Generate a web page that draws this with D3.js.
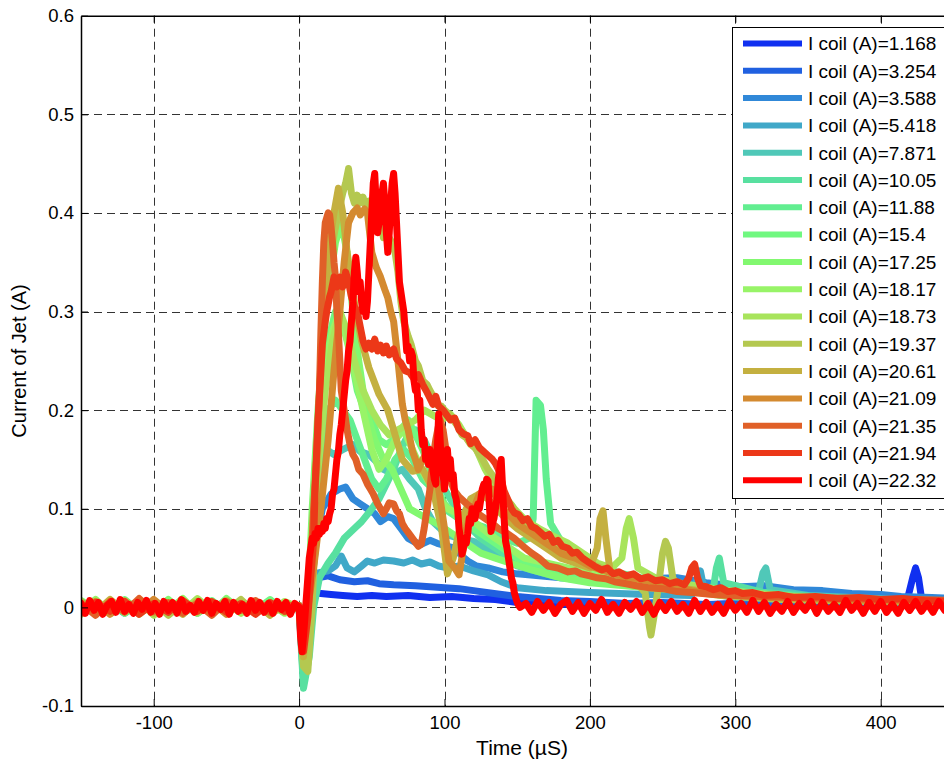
<!DOCTYPE html>
<html>
<head>
<meta charset="utf-8">
<script src="https://cdn.jsdelivr.net/npm/d3@7"></script>
<style>
body{margin:0;background:#fff;}
svg{display:block;font-family:"Liberation Sans",Arial,sans-serif;}
</style>
</head>
<body>
<svg id="chart" width="944" height="763"></svg>
<script>

// legend labels and line colours (jet-like, blue -> red)
var coilLabels=["1.168","3.254","3.588","5.418","7.871","10.05","11.88","15.4","17.25","18.17","18.73","19.37","20.61","21.09","21.35","21.94","22.32"];
var lineColors=["#1030f0","#2060e0","#3088d8","#40a8c8","#50c8b8","#58e0a0","#62ee90","#70f880","#82f870","#98f468","#a8e45c","#b4c850","#c4b040","#d48a30","#e06028","#ec3818","#ff0000"];

var xTicks=[-100,0,100,200,300,400];
var yTicks=[-0.1,0,0.1,0.2,0.3,0.4,0.5,0.6];

// pre-trigger noise, one sample every 10 uS from -150 (series 1..16)
var preNoise=[
 [0.003,-0.004,0.005,-0.002,0.004,-0.005,0.002,0.004,-0.003,0.005,-0.004,0.003,-0.005,0.004,-0.002,0.001],
 [-0.004,0.005,-0.003,0.004,-0.005,0.003,-0.002,0.005,-0.004,0.003,-0.005,0.004,-0.003,0.005,-0.004,0.0],
 [0.005,-0.003,0.004,-0.006,0.003,-0.004,0.006,-0.002,0.004,-0.005,0.003,-0.004,0.005,-0.003,0.004,-0.001],
 [-0.005,0.004,-0.004,0.006,-0.003,0.005,-0.004,0.003,-0.006,0.004,-0.002,0.006,-0.004,0.003,-0.005,0.002],
 [0.006,-0.004,0.003,-0.005,0.006,-0.002,0.004,-0.006,0.003,-0.004,0.008,-0.003,0.004,-0.005,0.003,0.0],
 [-0.003,0.006,-0.005,0.003,-0.004,0.007,-0.003,0.004,-0.005,0.006,-0.004,0.003,-0.006,0.005,-0.003,0.001],
 [0.004,-0.006,0.005,-0.003,0.007,-0.004,0.003,-0.006,0.005,-0.003,0.004,-0.005,0.006,-0.002,0.005,-0.002],
 [-0.006,0.004,-0.003,0.008,-0.004,0.005,-0.006,0.003,-0.004,0.007,-0.005,0.004,-0.003,0.008,-0.004,0.0],
 [0.007,-0.003,0.005,-0.006,0.004,-0.004,0.008,-0.005,0.003,-0.006,0.009,-0.003,0.005,-0.005,0.004,0.001],
 [-0.004,0.008,-0.005,0.004,-0.007,0.005,-0.003,0.009,-0.006,0.004,-0.003,0.007,-0.005,0.004,-0.006,0.002],
 [0.005,-0.007,0.004,-0.003,0.006,-0.008,0.005,-0.004,0.009,-0.003,0.005,-0.006,0.004,-0.007,0.006,0.0],
 [-0.007,0.005,-0.004,0.007,-0.003,0.006,-0.008,0.004,-0.005,0.006,-0.004,0.008,-0.006,0.003,-0.005,0.001],
 [0.006,-0.005,0.008,-0.004,0.005,-0.006,0.003,-0.007,0.006,-0.004,0.007,-0.003,0.005,-0.008,0.004,-0.001],
 [-0.005,0.006,-0.007,0.004,-0.005,0.008,-0.004,0.006,-0.003,0.005,-0.007,0.004,-0.006,0.005,-0.004,0.002],
 [0.004,-0.008,0.006,-0.005,0.009,-0.004,0.005,-0.006,0.004,-0.008,0.006,-0.003,0.007,-0.005,0.003,0.0],
 [-0.006,0.005,-0.004,0.006,-0.007,0.004,-0.005,0.007,-0.004,0.006,-0.005,0.004,-0.007,0.005,-0.004,0.001]
];

// pulse part [time uS, current A] for series 1..16
var pulse1168=[[3,-0.02],[6,0.004],[9,0.015],[15,0.014],[22,0.013],[30,0.012],[40,0.011],[50,0.012],[60,0.011],[75,0.012],[90,0.01],[105,0.011],[120,0.009],[135,0.008],[150,0.005],[165,0.006],[180,0.003],[200,0.005],[220,0.002],[245,0.004],[270,0.002],[300,0.004],[330,0.002],[360,0.004],[390,0.003],[415,0.006],[419,0.012],[422,0.03],[424,0.04],[426,0.03],[428,0.01],[432,0.004],[450,0.003]];
var pulse3254=[[3,-0.06],[6,-0.02],[9,0.02],[13,0.03],[20,0.032],[28,0.028],[38,0.026],[47,0.027],[55,0.024],[65,0.023],[80,0.022],[90,0.021],[100,0.02],[110,0.019],[120,0.017],[134,0.014],[150,0.011],[165,0.009],[180,0.007],[200,0.006],[225,0.004],[250,0.005],[280,0.003],[310,0.004],[340,0.002],[370,0.004],[400,0.002],[430,0.003],[450,0.002]];
var pulse3588=[[3,-0.07],[6,-0.03],[9,0.03],[12,0.07],[16,0.1],[22,0.115],[28,0.12],[32,0.122],[37,0.11],[42,0.105],[47,0.1],[52,0.095],[56,0.087],[61,0.092],[65,0.09],[70,0.08],[75,0.07],[80,0.066],[84,0.064],[90,0.068],[95,0.065],[102,0.062],[107,0.06],[112,0.052],[116,0.047],[122,0.042],[130,0.04],[140,0.036],[150,0.034],[165,0.032],[180,0.03],[200,0.031],[215,0.03],[235,0.029],[260,0.03],[280,0.025],[304,0.021],[320,0.022],[340,0.018],[360,0.017],[380,0.014],[400,0.013],[414,0.011],[435,0.01],[450,0.009]];
var pulse5418=[[3,-0.065],[6,-0.02],[9,0.02],[13,0.035],[20,0.037],[25,0.042],[29,0.052],[33,0.04],[38,0.036],[43,0.042],[47,0.047],[52,0.045],[58,0.048],[65,0.047],[72,0.045],[78,0.048],[84,0.044],[90,0.046],[96,0.042],[102,0.04],[110,0.042],[120,0.037],[130,0.033],[139,0.026],[150,0.02],[170,0.017],[200,0.015],[240,0.013],[270,0.012],[274,0.03],[276,0.037],[279,0.015],[300,0.01],[330,0.009],[360,0.007],[400,0.006],[450,0.005]];
var pulse7871=[[3,-0.075],[6,-0.04],[9,0.04],[12,0.1],[15,0.145],[19,0.16],[24,0.155],[30,0.16],[37,0.165],[42,0.158],[48,0.155],[53,0.148],[58,0.14],[65,0.135],[71,0.14],[76,0.13],[82,0.12],[87,0.1],[92,0.087],[97,0.08],[101,0.074],[110,0.07],[120,0.067],[130,0.058],[140,0.05],[150,0.042],[165,0.036],[180,0.03],[200,0.027],[230,0.024],[260,0.022],[300,0.018],[316,0.016],[319,0.035],[321,0.04],[324,0.018],[350,0.012],[380,0.01],[410,0.008],[450,0.006]];
var pulse1005=[[3,-0.082],[7,-0.05],[10,0.0],[14,0.03],[20,0.045],[25,0.055],[31,0.07],[38,0.08],[43,0.087],[49,0.098],[55,0.11],[60,0.125],[65,0.14],[70,0.16],[75,0.175],[80,0.18],[86,0.17],[92,0.15],[100,0.12],[108,0.1],[115,0.085],[125,0.07],[135,0.06],[145,0.05],[160,0.042],[180,0.035],[200,0.03],[230,0.026],[260,0.022],[285,0.02],[287,0.04],[289,0.05],[292,0.025],[320,0.015],[360,0.01],[400,0.008],[450,0.006]];
var pulse1188=[[3,-0.06],[6,-0.02],[9,0.06],[12,0.12],[16,0.17],[20,0.2],[25,0.21],[30,0.2],[35,0.19],[40,0.17],[45,0.15],[50,0.13],[55,0.12],[60,0.13],[66,0.15],[72,0.16],[78,0.15],[85,0.13],[92,0.12],[100,0.1],[110,0.09],[120,0.085],[130,0.08],[140,0.07],[150,0.065],[158,0.07],[161,0.09],[163,0.21],[166,0.205],[168,0.18],[170,0.13],[173,0.085],[185,0.055],[200,0.045],[220,0.035],[250,0.025],[280,0.018],[320,0.012],[360,0.008],[400,0.006],[450,0.004]];
var pulse1540=[[3,-0.05],[6,0.0],[9,0.08],[12,0.15],[16,0.22],[20,0.27],[25,0.3],[30,0.29],[35,0.26],[40,0.22],[45,0.2],[50,0.19],[55,0.17],[60,0.165],[65,0.17],[70,0.18],[75,0.19],[80,0.175],[85,0.16],[90,0.14],[95,0.12],[100,0.105],[110,0.09],[120,0.08],[130,0.07],[140,0.06],[150,0.05],[170,0.04],[200,0.03],[230,0.025],[260,0.02],[300,0.014],[350,0.01],[400,0.007],[450,0.005]];
var pulse1725=[[3,-0.05],[6,0.0],[9,0.1],[13,0.2],[17,0.28],[21,0.33],[25,0.37],[29,0.39],[33,0.36],[37,0.3],[41,0.25],[46,0.2],[52,0.17],[58,0.15],[64,0.14],[70,0.12],[76,0.1],[82,0.095],[88,0.09],[95,0.085],[105,0.075],[115,0.065],[125,0.055],[135,0.05],[145,0.045],[160,0.038],[180,0.03],[200,0.025],[240,0.02],[280,0.015],[330,0.01],[400,0.007],[450,0.005]];
var pulse1817=[[3,-0.055],[6,-0.01],[9,0.08],[13,0.17],[18,0.24],[23,0.28],[28,0.3],[33,0.27],[38,0.24],[44,0.2],[50,0.16],[55,0.14],[60,0.15],[66,0.17],[72,0.18],[78,0.16],[84,0.14],[90,0.125],[96,0.11],[102,0.1],[110,0.095],[118,0.09],[126,0.08],[135,0.07],[145,0.06],[155,0.05],[170,0.045],[185,0.04],[200,0.035],[220,0.03],[240,0.028],[260,0.025],[290,0.018],[330,0.012],[380,0.008],[450,0.006]];
var pulse1873=[[3,-0.05],[6,0.0],[9,0.06],[13,0.14],[18,0.22],[23,0.27],[28,0.3],[33,0.28],[38,0.25],[44,0.22],[50,0.2],[56,0.185],[62,0.175],[68,0.18],[74,0.185],[80,0.19],[86,0.2],[92,0.195],[98,0.19],[104,0.196],[110,0.185],[116,0.17],[122,0.16],[128,0.14],[134,0.125],[140,0.115],[148,0.1],[156,0.088],[165,0.08],[175,0.072],[185,0.065],[195,0.055],[205,0.045],[215,0.04],[222,0.05],[225,0.08],[227,0.09],[230,0.07],[233,0.04],[245,0.03],[270,0.022],[300,0.015],[350,0.01],[400,0.007],[450,0.006]];
var pulse1937=[[3,-0.06],[6,-0.065],[9,0.0],[12,0.12],[15,0.25],[19,0.33],[23,0.37],[27,0.4],[30,0.42],[32,0.43],[34,0.445],[36,0.42],[38,0.41],[40,0.418],[42,0.41],[44,0.416],[46,0.405],[48,0.412],[50,0.402],[52,0.41],[54,0.405],[56,0.39],[58,0.375],[60,0.38],[63,0.372],[66,0.36],[68,0.34],[70,0.31],[72,0.29],[75,0.275],[77,0.267],[80,0.25],[82,0.245],[85,0.23],[88,0.226],[90,0.22],[93,0.212],[95,0.205],[98,0.204],[100,0.2],[103,0.196],[106,0.19],[109,0.184],[112,0.175],[115,0.172],[118,0.165],[121,0.162],[124,0.155],[127,0.148],[130,0.14],[133,0.134],[136,0.125],[139,0.118],[142,0.11],[146,0.104],[150,0.095],[155,0.088],[160,0.08],[165,0.076],[170,0.07],[175,0.064],[180,0.06],[185,0.055],[190,0.05],[195,0.048],[200,0.045],[208,0.04],[215,0.035],[222,0.031],[230,0.025],[235,0.02],[238,0.015],[241,-0.02],[242,-0.028],[244,-0.01],[247,0.02],[250,0.055],[252,0.067],[254,0.06],[257,0.03],[261,0.02],[265,0.018],[275,0.015],[290,0.012],[310,0.01],[330,0.008],[360,0.007],[400,0.006],[450,0.005]];
var pulse2061=[[3,-0.05],[6,-0.01],[9,0.05],[12,0.15],[15,0.25],[18,0.32],[21,0.37],[24,0.4],[27,0.425],[30,0.4],[33,0.36],[36,0.33],[39,0.3],[43,0.27],[48,0.243],[55,0.216],[61,0.2],[65,0.18],[71,0.15],[78,0.138],[85,0.14],[92,0.12],[98,0.08],[102,0.034],[106,0.05],[112,0.09],[118,0.11],[124,0.115],[130,0.11],[136,0.1],[142,0.09],[150,0.08],[160,0.07],[170,0.06],[180,0.05],[190,0.045],[200,0.04],[205,0.06],[207,0.09],[209,0.098],[211,0.07],[214,0.035],[225,0.03],[240,0.025],[260,0.02],[290,0.014],[330,0.01],[400,0.007],[450,0.006]];
var pulse2109=[[3,-0.04],[6,0.0],[10,0.04],[15,0.1],[20,0.17],[24,0.24],[28,0.3],[31,0.35],[34,0.39],[37,0.4],[40,0.405],[42,0.398],[45,0.404],[47,0.4],[50,0.36],[53,0.345],[56,0.335],[59,0.322],[61,0.314],[63,0.3],[65,0.29],[68,0.25],[71,0.206],[73,0.19],[75,0.18],[78,0.158],[80,0.15],[82,0.14],[85,0.15],[87,0.155],[90,0.148],[92,0.14],[94,0.13],[96,0.12],[98,0.1],[100,0.08],[103,0.047],[107,0.04],[110,0.033],[113,0.06],[115,0.08],[118,0.095],[120,0.1],[124,0.115],[128,0.12],[131,0.114],[133,0.12],[136,0.11],[138,0.105],[143,0.095],[147,0.09],[150,0.085],[155,0.08],[160,0.075],[165,0.07],[170,0.065],[175,0.06],[180,0.055],[185,0.052],[190,0.05],[195,0.046],[200,0.042],[208,0.038],[215,0.035],[222,0.032],[230,0.03],[238,0.028],[245,0.025],[252,0.022],[260,0.02],[270,0.017],[280,0.015],[290,0.013],[300,0.012],[325,0.01],[350,0.009],[400,0.007],[450,0.006]];
var pulse2135=[[3,-0.04],[6,0.0],[8,0.04],[10,0.1],[12,0.15],[14,0.22],[15,0.28],[16,0.33],[17,0.37],[18,0.39],[19,0.395],[20,0.4],[21,0.398],[22,0.385],[23,0.37],[24,0.35],[25,0.335],[26,0.3],[27,0.28],[28,0.25],[29,0.22],[31,0.2],[33,0.18],[35,0.165],[37,0.155],[39,0.15],[41,0.14],[44,0.135],[47,0.125],[49,0.12],[51,0.115],[54,0.105],[56,0.1],[58,0.095],[60,0.1],[62,0.106],[65,0.105],[67,0.098],[69,0.095],[71,0.085],[73,0.08],[75,0.076],[78,0.07],[80,0.066],[82,0.062],[84,0.064],[86,0.08],[88,0.1],[90,0.12],[92,0.15],[94,0.17],[96,0.185],[97,0.19],[99,0.18],[100,0.17],[102,0.15],[103,0.14],[105,0.125],[107,0.118],[110,0.112],[113,0.108],[116,0.104],[120,0.1],[124,0.094],[128,0.09],[132,0.086],[137,0.08],[142,0.076],[148,0.07],[154,0.062],[160,0.055],[165,0.05],[171,0.042],[178,0.04],[185,0.036],[190,0.037],[194,0.034],[200,0.032],[205,0.03],[211,0.029],[217,0.026],[225,0.024],[232,0.022],[240,0.02],[250,0.019],[260,0.016],[270,0.015],[285,0.013],[300,0.012],[320,0.011],[350,0.01],[380,0.009],[400,0.008],[425,0.008],[450,0.007]];
var pulse2194=[[3,-0.045],[6,-0.01],[8,0.03],[10,0.067],[11,0.12],[13,0.19],[15,0.24],[16,0.267],[18,0.29],[19,0.3],[21,0.315],[22,0.32],[24,0.335],[26,0.325],[28,0.335],[30,0.325],[32,0.34],[34,0.33],[36,0.315],[38,0.305],[40,0.3],[42,0.285],[44,0.27],[46,0.262],[48,0.268],[50,0.262],[52,0.272],[54,0.26],[56,0.266],[58,0.258],[60,0.265],[62,0.256],[65,0.262],[67,0.252],[70,0.248],[73,0.24],[76,0.238],[79,0.232],[82,0.236],[85,0.226],[88,0.218],[90,0.212],[92,0.206],[94,0.214],[96,0.204],[99,0.2],[101,0.196],[104,0.19],[107,0.192],[110,0.18],[113,0.176],[116,0.174],[118,0.166],[121,0.17],[124,0.162],[127,0.158],[130,0.154],[133,0.15],[135,0.146],[137,0.14],[139,0.13],[141,0.118],[144,0.108],[146,0.1],[148,0.096],[151,0.094],[154,0.088],[157,0.09],[160,0.082],[163,0.08],[166,0.076],[169,0.072],[172,0.074],[175,0.066],[178,0.068],[181,0.062],[185,0.06],[188,0.055],[191,0.056],[195,0.05],[199,0.046],[203,0.042],[208,0.038],[212,0.04],[216,0.034],[220,0.036],[225,0.032],[230,0.034],[235,0.029],[240,0.031],[245,0.027],[250,0.028],[255,0.024],[260,0.026],[265,0.023],[268,0.03],[270,0.04],[272,0.044],[274,0.03],[276,0.022],[280,0.021],[285,0.018],[290,0.02],[295,0.016],[300,0.017],[305,0.014],[312,0.015],[320,0.012],[330,0.013],[340,0.01],[355,0.011],[370,0.009],[385,0.01],[400,0.008],[415,0.009],[430,0.007],[450,0.006]];

// series 17 (22.32 A, red) : dense noise before and after the pulse
var redPre=[0.004,-0.006,0.007,-0.003,0.005,-0.007,0.002,0.006,-0.005,0.008,-0.004,0.003,-0.006,0.005,-0.002,0.007,-0.005,0.004,-0.007,0.006,-0.003,0.005,-0.006,0.008,-0.004,0.002,-0.005,0.006,-0.003,0.007,-0.006,0.004,-0.002,0.006,-0.007,0.005,-0.004,0.003,-0.006,0.007,-0.003,0.005,-0.005,0.004,-0.006,0.006,-0.002,0.005,-0.007,0.004,0.0];
var redPulse=[[1,-0.03],[2,-0.045],[3,-0.03],[4,-0.01],[5,0.01],[6,0.03],[7,0.05],[8,0.06],[9,0.07],[10,0.065],[11,0.075],[12,0.07],[13,0.08],[14,0.074],[15,0.08],[16,0.077],[17,0.085],[18,0.08],[19,0.09],[20,0.087],[21,0.095],[22,0.1],[23,0.115],[24,0.12],[25,0.135],[26,0.15],[27,0.158],[28,0.175],[29,0.185],[30,0.2],[31,0.215],[32,0.23],[33,0.24],[34,0.26],[35,0.27],[36,0.29],[37,0.31],[38,0.34],[39,0.355],[40,0.34],[41,0.32],[42,0.33],[43,0.31],[44,0.3],[45,0.31],[46,0.295],[47,0.31],[48,0.34],[49,0.37],[50,0.4],[51,0.43],[52,0.44],[53,0.41],[54,0.38],[55,0.39],[56,0.41],[57,0.42],[58,0.43],[59,0.41],[60,0.38],[61,0.36],[62,0.38],[63,0.41],[64,0.43],[65,0.44],[66,0.42],[67,0.39],[68,0.36],[69,0.33],[70,0.32],[71,0.31],[72,0.3],[73,0.28],[74,0.26],[75,0.265],[76,0.25],[77,0.26],[78,0.255],[79,0.23],[80,0.22],[81,0.225],[82,0.2],[83,0.21],[84,0.18],[85,0.165],[86,0.17],[87,0.15],[88,0.155],[89,0.145],[90,0.16],[91,0.155],[92,0.14],[93,0.13],[94,0.125],[95,0.16],[96,0.196],[97,0.17],[98,0.14],[99,0.135],[100,0.12],[101,0.14],[102,0.16],[103,0.14],[104,0.15],[105,0.13],[106,0.135],[107,0.115],[108,0.11],[109,0.1],[110,0.08],[111,0.07],[112,0.054],[113,0.06],[114,0.07],[115,0.065],[116,0.075],[117,0.09],[118,0.085],[119,0.1],[120,0.095],[121,0.09],[122,0.1],[123,0.105],[124,0.1],[125,0.11],[126,0.12],[127,0.125],[128,0.12],[129,0.13],[130,0.128],[131,0.1],[132,0.077],[133,0.085],[134,0.09],[135,0.1],[136,0.11],[137,0.13],[138,0.14],[139,0.15],[140,0.12],[141,0.09],[142,0.067],[143,0.06],[144,0.05],[145,0.04],[146,0.03],[147,0.025],[148,0.015],[149,0.01],[150,0.005],[151,0.002],[152,0.0]];
var redTail=[0.004,-0.005,0.006,-0.003,0.005,-0.006,0.003,0.007,-0.004,0.005,-0.006,0.004,-0.003,0.008,-0.005,0.003,-0.006,0.005,-0.002,0.006,-0.005,0.004,-0.007,0.005,-0.003,0.006,-0.004,0.003,-0.006,0.007,-0.004,0.005,-0.005,0.003,-0.006,0.006,-0.003,0.004,-0.005,0.007,-0.004,0.005,-0.006,0.003,-0.004,0.006,-0.005,0.004,-0.003,0.006,-0.006,0.005,-0.004,0.003,-0.005,0.007,-0.003,0.004,-0.006,0.005,-0.004,0.006,-0.005,0.003,-0.006,0.005,-0.003,0.006,-0.004,0.004,-0.005,0.006,-0.003,0.005,-0.004];

var pulses=[pulse1168,pulse3254,pulse3588,pulse5418,pulse7871,pulse1005,pulse1188,pulse1540,pulse1725,pulse1817,pulse1873,pulse1937,pulse2061,pulse2109,pulse2135,pulse2194];

var seriesPts=pulses.map(function(p,i){
	return preNoise[i].map(function(v,k){return [-150+10*k,v];}).concat(p);
});
seriesPts.push(
	redPre.map(function(v,k){return [-150+3*k,v];})
	.concat(redPulse)
	.concat(redTail.map(function(v,k){return [156+4*k,v];}))
);

var svg=d3.select('#chart');
var W=944,H=763;
svg.append('rect').attr('width',W).attr('height',H).attr('fill','#fff');

var plotLeft=81,plotTop=15.7,plotBottom=706;
var x=d3.scaleLinear().domain([-150,450]).range([plotLeft,plotLeft+600*1.454]);
var y=d3.scaleLinear().domain([-0.1,0.6]).range([plotBottom,plotTop]);

svg.append('clipPath').attr('id','plotclip')
	.append('rect').attr('x',plotLeft).attr('y',plotTop).attr('width',W-plotLeft).attr('height',plotBottom-plotTop);

//grid
var grid=svg.append('g').attr('stroke','#333').attr('stroke-width',1).attr('stroke-dasharray','8,5');
grid.selectAll('line.gx').data(xTicks).enter().append('line')
	.attr('x1',function(d){return Math.round(x(d))+0.5;})
	.attr('x2',function(d){return Math.round(x(d))+0.5;})
	.attr('y1',plotTop).attr('y2',plotBottom);
grid.selectAll('line.gy').data(yTicks.filter(function(d){return d>-0.1&&d<0.6;})).enter().append('line')
	.attr('y1',function(d){return Math.round(y(d))+0.5;})
	.attr('y2',function(d){return Math.round(y(d))+0.5;})
	.attr('x1',plotLeft).attr('x2',W);

//curves
var line=d3.line().x(function(d){return x(d[0]);}).y(function(d){return y(d[1]);});
svg.append('g').attr('clip-path','url(#plotclip)')
	.selectAll('path').data(seriesPts).enter().append('path')
	.attr('d',line)
	.attr('fill','none')
	.attr('stroke',function(d,i){return lineColors[i];})
	.attr('stroke-width',7)
	.attr('stroke-linejoin','round')
	.attr('stroke-linecap','round');

//axes (matlab style, ticks inside), plain hyphen for negatives
var fmtX=function(d){return String(d);};
var fmtY=function(d){return d===0?'0':d.toFixed(1);};
var xAxisB=d3.axisBottom(x).tickValues(xTicks).tickSizeInner(-7).tickSizeOuter(0).tickPadding(14).tickFormat(fmtX);
var gx=svg.append('g').attr('transform','translate(0,'+plotBottom+')').call(xAxisB);
var xAxisT=d3.axisTop(x).tickValues(xTicks).tickSizeInner(-7).tickSizeOuter(0).tickFormat('');
var gxt=svg.append('g').attr('transform','translate(0,'+plotTop+')').call(xAxisT);
var yAxisL=d3.axisLeft(y).tickValues(yTicks).tickSizeInner(-7).tickSizeOuter(0).tickPadding(14).tickFormat(fmtY);
var gy=svg.append('g').attr('transform','translate('+plotLeft+',0)').call(yAxisL);

[gx,gxt,gy].forEach(function(g){
	g.select('.domain').attr('stroke','#000').attr('stroke-width',1.5);
	g.selectAll('.tick line').attr('stroke','#000');
	g.selectAll('.tick text').attr('fill','#000').style('font-size','18.5px').style('font-family','"Liberation Sans",Arial,sans-serif');
});
gy.selectAll('.tick text').attr('x',-7);
gx.selectAll('.tick text').attr('y',10);

//axis labels
svg.append('text').attr('x',522).attr('y',755).attr('text-anchor','middle')
	.style('font-size','21px').text('Time (µS)');
svg.append('text').attr('transform','translate(26,361) rotate(-90)').attr('text-anchor','middle')
	.style('font-size','20px').text('Current of Jet (A)');

//legend
var lg=svg.append('g');
lg.append('rect').attr('x',732.5).attr('y',27.5).attr('width',240).attr('height',471)
	.attr('fill','#fff').attr('stroke','#000').attr('stroke-width',1);
var rows=lg.selectAll('g.row').data(coilLabels).enter().append('g')
	.attr('transform',function(d,i){return 'translate(0,'+(43.5+27.3*i)+')';});
rows.append('line').attr('x1',743).attr('x2',802).attr('y1',0).attr('y2',0)
	.attr('stroke',function(d,i){return lineColors[i];}).attr('stroke-width',6);
rows.append('text').attr('x',808).attr('y',0).attr('dy','0.36em')
	.style('font-size','19px').text(function(d){return 'I coil (A)='+d;});

</script>
</body>
</html>
